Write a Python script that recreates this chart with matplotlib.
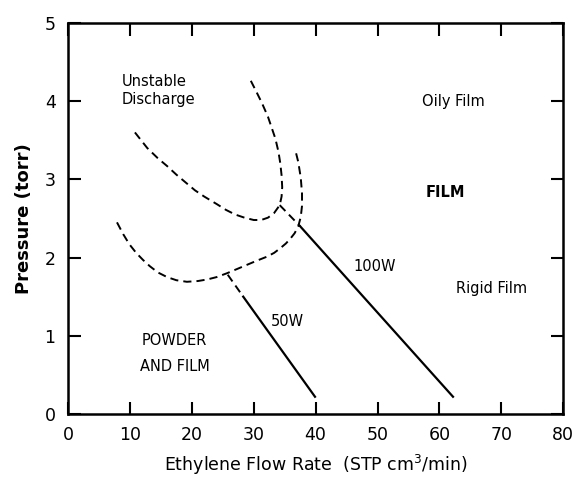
import matplotlib
matplotlib.use('Agg')
from matplotlib import pyplot as plt

# dashed boundaries
upper_x = [10.8, 12.8, 14.5, 16.0, 17.5, 19.0, 20.5, 22.0, 24.1, 25.5, 27.0, 28.5, 30.0, 31.2, 32.3, 33.3, 34.2,
           34.5, 34.6, 34.5, 34.3, 34.0, 33.5, 32.9, 32.3, 31.3, 30.3, 29.4]
upper_y = [3.60, 3.40, 3.27, 3.17, 3.06, 2.96, 2.86, 2.78, 2.68, 2.61, 2.55, 2.51, 2.48, 2.48, 2.51, 2.57, 2.67,
           2.78, 2.90, 3.05, 3.20, 3.35, 3.52, 3.66, 3.80, 3.98, 4.14, 4.28]

lower_x = [7.9, 8.9, 9.9, 11.0, 12.1, 13.2, 14.5, 16.0, 17.5, 19.2, 21.0, 22.5, 24.0, 25.7, 27.5, 29.0, 30.5,
           32.1, 33.3, 34.3, 35.2, 35.9, 36.6, 37.2, 37.6, 37.8, 37.8, 37.6, 37.2, 36.7]
lower_y = [2.45, 2.30, 2.17, 2.06, 1.97, 1.89, 1.81, 1.75, 1.71, 1.69, 1.70, 1.72, 1.75, 1.80, 1.86, 1.91, 1.96,
           2.01, 2.06, 2.12, 2.18, 2.24, 2.31, 2.40, 2.52, 2.66, 2.82, 3.02, 3.22, 3.38]

# power lines: short dashed start, then solid
w100_dash_x = [34.2, 37.5]
w100_dash_y = [2.67, 2.40]
w100_x = [37.5, 62.2]
w100_y = [2.40, 0.22]

w50_dash_x = [25.8, 28.3]
w50_dash_y = [1.78, 1.50]
w50_x = [28.3, 39.9]
w50_y = [1.50, 0.22]

xticks = [0, 10, 20, 30, 40, 50, 60, 70, 80]
yticks = [0, 1, 2, 3, 4, 5]

fig = plt.figure(figsize=(5.77, 4.78), dpi=100)
ax = fig.add_axes([0.118, 0.134, 0.858, 0.818])

dash = (0, (4.2, 2.6))
ax.plot(upper_x, upper_y, color='k', lw=1.4, linestyle=dash)
ax.plot(lower_x, lower_y, color='k', lw=1.4, linestyle=dash)
ax.plot(w100_dash_x, w100_dash_y, color='k', lw=1.4, linestyle=dash)
ax.plot(w100_x, w100_y, color='k', lw=1.6)
ax.plot(w50_dash_x, w50_dash_y, color='k', lw=1.4, linestyle=dash)
ax.plot(w50_x, w50_y, color='k', lw=1.6)

ax.set_xlim(0, 80)
ax.set_ylim(0, 5)
ax.set_xticks(xticks)
ax.set_yticks(yticks)
ax.tick_params(direction='in', length=9, width=1.5, labelsize=12.5, pad=9,
               top=True, right=True)
for s in ax.spines.values():
    s.set_linewidth(1.8)

fs = 10.5
ax.text(8.7, 4.14, 'Unstable\nDischarge', fontsize=fs, ha='left', va='center', linespacing=1.25)
ax.text(62.2, 3.99, 'Oily Film', fontsize=fs, ha='center', va='center')
ax.text(60.9, 2.83, 'FILM', fontsize=fs, ha='center', va='center', fontweight='bold')
ax.text(49.6, 1.88, '100W', fontsize=fs, ha='center', va='center')
ax.text(68.5, 1.61, 'Rigid Film', fontsize=fs, ha='center', va='center')
ax.text(35.5, 1.18, '50W', fontsize=fs, ha='center', va='center')
ax.text(17.2, 0.77, 'POWDER\nAND FILM', fontsize=fs, ha='center', va='center', linespacing=1.9)

ax.set_xlabel('Ethylene Flow Rate  (STP cm$^3$/min)', fontsize=12.5, labelpad=6)
ax.set_ylabel('Pressure (torr)', fontsize=13, fontweight='bold', labelpad=8)

fig.savefig('out.png', dpi=100)
